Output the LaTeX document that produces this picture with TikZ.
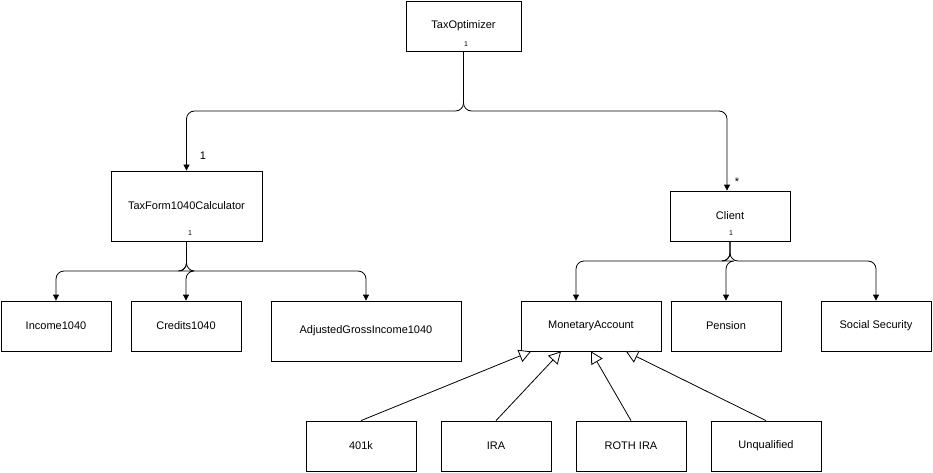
\documentclass[tikz,border=0pt]{standalone}
\usepackage{fontspec}
\setmainfont{Liberation Sans}
\usetikzlibrary{arrows.meta,positioning}
\begin{document}
\begin{tikzpicture}[x=1pt,y=-1pt,
  box/.style={draw,line width=0.8pt,fill=white,minimum height=50pt,inner sep=0pt,font=\fontsize{11}{13}\selectfont},
  con/.style={line width=0.8pt,rounded corners=8pt,-{Triangle[length=6pt,width=6pt]}},
  inh/.style={line width=0.8pt,-{Triangle[open,length=12pt,width=13pt,fill=white]}},
  sm/.style={font=\fontsize{7}{8}\selectfont,inner sep=0pt},
  lb/.style={font=\fontsize{11}{13}\selectfont,inner sep=0pt}]
\useasboundingbox (0,0) rectangle (933,473);
\node[box,minimum width=115pt] (to) at (463.5,26) {TaxOptimizer};
\node[box,minimum width=151pt,minimum height=70pt] (tf) at (186.5,206) {TaxForm1040Calculator};
\node[box,minimum width=120pt] (cl) at (730,216) {Client};
\node[box,minimum width=110pt] (inc) at (56,326) {Income1040};
\node[box,minimum width=110pt] (cr) at (186,326) {Credits1040};
\node[box,minimum width=190pt,minimum height=60pt] (agi) at (366,331) {AdjustedGrossIncome1040};
\node[box,minimum width=140pt] (ma) at (591,326) {MonetaryAccount};
\node[box,minimum width=110pt] (pe) at (726,326) {Pension};
\node[box,minimum width=110pt] (ss) at (876,326) {Social Security};
\node[box,minimum width=110pt] (k) at (361,446) {401k};
\node[box,minimum width=110pt] (ira) at (496,446) {IRA};
\node[box,minimum width=110pt] (roth) at (631,446) {ROTH IRA};
\node[box,minimum width=110pt] (un) at (766,446) {Unqualified};
\node[sm] (l1) at (466,44) {1};
\node[sm] (l2) at (190,233) {1};
\node[sm] (l3) at (731,233) {1};
\node[lb] (l4) at (203,156) {1};
\node[lb] (l5) at (737,182) {*};
\coordinate (j1) at (463.5,111);
\coordinate (j2) at (186.5,271);
\coordinate (j3) at (730,261);
\draw[con] (to.south) -- (j1) -| (tf.north);
\draw[con] (to.south) -- (j1) -| ([xshift=-3pt]cl.north);
\draw[con] (tf.south) -- (j2) -| (inc.north);
\draw[con] (tf.south) -- (j2) -| (cr.north);
\draw[con] (tf.south) -- (j2) -| (agi.north);
\draw[con] (cl.south) -- (j3) -| ([xshift=-15pt]ma.north);
\draw[con] (cl.south) -- (j3) -| (pe.north);
\draw[con] (cl.south) -- (j3) -| (ss.north);
\draw[inh] (k.north) -- ([xshift=-60pt]ma.south);
\draw[inh] (ira.north) -- ([xshift=-30pt]ma.south);
\draw[inh] (roth.north) -- ([xshift=0pt]ma.south);
\draw[inh] (un.north) -- ([xshift=35pt]ma.south);
\end{tikzpicture}
\end{document}
